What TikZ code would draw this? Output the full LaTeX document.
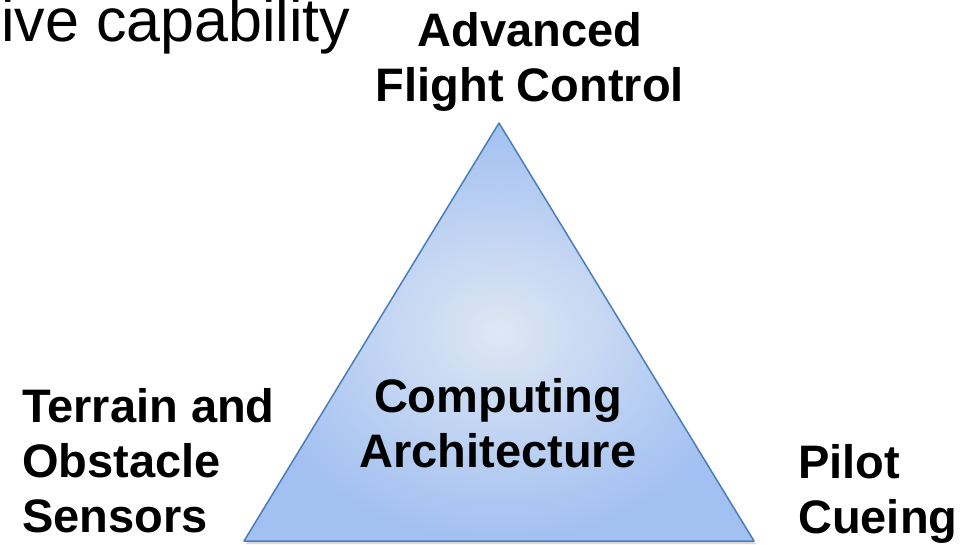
\documentclass[tikz,border=0pt]{standalone}
\usepackage{fontspec}
\setmainfont{Liberation Sans}
\definecolor{borde}{RGB}{74,126,187}
\definecolor{centro}{RGB}{222,231,243}
\definecolor{exterior}{RGB}{162,192,242}

\begin{document}
\begin{tikzpicture}[x=1pt,y=-1pt,
    etiq/.style={font=\bfseries\fontsize{47}{55}\selectfont, inner sep=0pt}]
   	\useasboundingbox (0,0) rectangle (961,545);

	%Sombra del triangulo
   	\fill[black!15] (501,126) -- (246,544) -- (756,544) -- cycle;
	%Triangulo con degradado
   	\shade[inner color=centro, outer color=exterior] (499,123) -- (244,541) -- (754,541) -- cycle;
   	\draw[borde, line width=1.5pt, line join=round] (499,123) -- (244,541) -- (754,541) -- cycle;

	%Titulo cortado arriba
   	\node[anchor=base west, inner sep=0pt, font=\fontsize{61}{70}\selectfont] (titulo) at (1,42) {ive capability};

	%Vertices (base = ultima linea)
   	\node[etiq, align=center, anchor=base] (control) at (530,102) {Advanced\\Flight Control};
   	\node[etiq, align=left, anchor=base west] (sensores) at (22,532) {Terrain and\\Obstacle\\Sensors};
   	\node[etiq, align=left, anchor=base west] (piloto) at (798,533) {Pilot\\Cueing};

	%Centro
   	\node[etiq, align=center, anchor=base] (arquitectura) at (498,467) {Computing\\Architecture};
\end{tikzpicture}
\end{document}
